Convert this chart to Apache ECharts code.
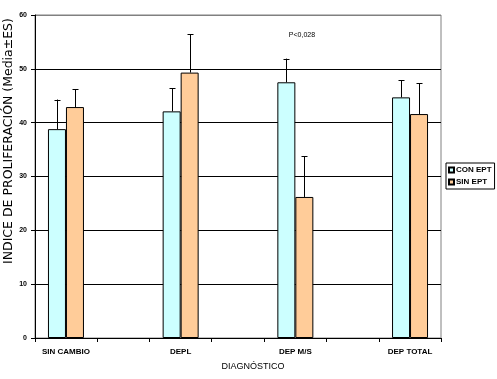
<!DOCTYPE html>
<html><head><meta charset="utf-8">
<script src="https://cdn.jsdelivr.net/npm/echarts@6/dist/echarts.min.js"></script>
<style>html,body{margin:0;padding:0;background:#fff}#c{width:497px;height:379px}</style>
</head><body><div id="c"></div>
<script>
var categories = ['SIN CAMBIO', 'DEPL', 'DEP M/S', 'DEP TOTAL'];
var seriesNames = ['CON EPT', 'SIN EPT'];
var conEpt = [38.8, 42.1, 47.5, 44.7];
var conEptErr = [5.5, 4.3, 4.4, 3.2];
var sinEpt = [42.9, 49.3, 26.2, 41.6];
var sinEptErr = [3.3, 7.1, 7.6, 5.7];
var yTicks = [0, 10, 20, 30, 40, 50, 60];
var xTickPositions = [-0.27, 0.27, 0.73, 1.27, 1.73, 2.27, 2.73, 3.27];

var BW = 18;
var font = '"Liberation Sans", Arial, sans-serif';

function pts(vals) { return vals.map(function (v, i) { return [i, v]; }); }
function errData(vals, errs) { return vals.map(function (v, i) { return [i, v, v + errs[i]]; }); }

function errSeries(vals, errs, offset) {
  return {
    type: 'custom', z: 5, silent: true,
    data: errData(vals, errs),
    encode: { x: 0, y: [1, 2] },
    renderItem: function (params, api) {
      var p0 = api.coord([api.value(0), api.value(1)]);
      var p1 = api.coord([api.value(0), api.value(2)]);
      var x = Math.round(p0[0] + offset) + 0.5;
      return {
        type: 'group', children: [
          { type: 'line', shape: { x1: x, y1: p0[1], x2: x, y2: p1[1] }, style: { stroke: '#000', lineWidth: 1 } },
          { type: 'line', shape: { x1: x - 3, y1: Math.round(p1[1]) + 0.5, x2: x + 3, y2: Math.round(p1[1]) + 0.5 }, style: { stroke: '#000', lineWidth: 1 } }
        ]
      };
    }
  };
}

var chart = echarts.init(document.getElementById('c'), null, { renderer: 'canvas' });
chart.setOption({
  animation: false,
  backgroundColor: '#fff',
  textStyle: { fontFamily: font },
  grid: { left: 35, top: 15, right: 56, bottom: 41, show: true, borderColor: '#808080', borderWidth: 1, backgroundColor: 'transparent' },
  legend: {
    orient: 'vertical', left: 446, top: 163, data: seriesNames,
    itemWidth: 5, itemHeight: 5, itemGap: 4, padding: [3, 3, 3, 2],
    borderColor: '#000', borderWidth: 1, icon: 'rect',
    textStyle: { fontSize: 8, fontWeight: 'bold', color: '#000', fontFamily: font, padding: [0, 0, 0, -3] }
  },
  xAxis: {
    type: 'value', min: -0.27, max: 3.27,
    splitLine: { show: false },
    axisLine: { show: true, onZero: false, lineStyle: { color: '#000' } },
    axisTick: { show: true, length: 4, customValues: xTickPositions, lineStyle: { color: '#000' } },
    axisLabel: {
      customValues: [0, 1, 2, 3], margin: 10, fontSize: 8, fontWeight: 'bold', color: '#000',
      formatter: function (v) { return categories[Math.round(v)]; }
    }
  },
  yAxis: {
    type: 'value', min: 0, max: 60, interval: 10,
    axisLine: { show: true, onZero: false, lineStyle: { color: '#000' } },
    axisTick: { show: true, length: 4, lineStyle: { color: '#000' } },
    axisLabel: { margin: 8, fontSize: 7, fontWeight: 'bold', color: '#000' },
    splitLine: { show: true, lineStyle: { color: ['#000', '#000', '#000', '#000', '#000', '#000', '#808080'], width: 1 } }
  },
  graphic: [
    { type: 'text', x: 9, y: 264, rotation: Math.PI / 2,
      style: { text: 'INDICE DE PROLIFERACIÓN (Media±ES)', fontSize: 12.5, fontFamily: '"DejaVu Sans", sans-serif', fill: '#000', align: 'left', verticalAlign: 'middle' } },
    { type: 'text', x: 253, y: 367,
      style: { text: 'DIAGNÓSTICO', fontSize: 9, fontFamily: font, fill: '#000', align: 'center', verticalAlign: 'middle' } },
    { type: 'text', x: 302, y: 35,
      style: { text: 'P<0,028', fontSize: 7, fontFamily: font, fill: '#000', align: 'center', verticalAlign: 'middle' } }
  ],
  series: [
    { name: seriesNames[0], type: 'bar', data: pts(conEpt), barWidth: BW, barGap: '0%',
      itemStyle: { color: '#CCFFFF', borderColor: '#000', borderWidth: 1 } },
    { name: seriesNames[1], type: 'bar', data: pts(sinEpt), barWidth: BW, barGap: '0%',
      itemStyle: { color: '#FFCC99', borderColor: '#000', borderWidth: 1 } },
    errSeries(conEpt, conEptErr, -BW / 2),
    errSeries(sinEpt, sinEptErr, BW / 2)
  ]
});
</script></body></html>
